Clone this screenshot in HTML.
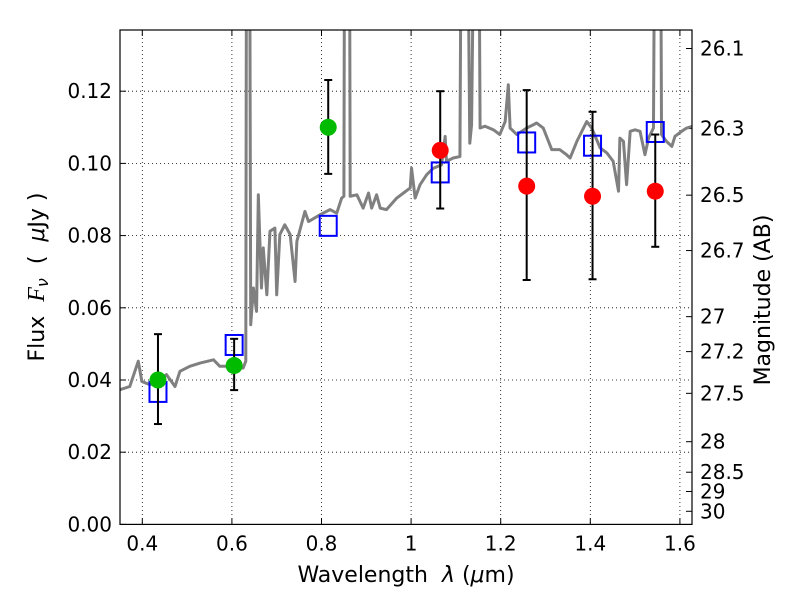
<!DOCTYPE html>
<html><head><meta charset="utf-8"><style>
body{margin:0;background:#fff}
svg text{font-family:"DejaVu Sans","Liberation Sans",sans-serif;fill:#000}
</style></head><body>
<svg id="chart" width="800" height="600" xmlns="http://www.w3.org/2000/svg"></svg>
<script>
const specWl=[0.350,0.372,0.391,0.399,0.417,0.432,0.454,0.473,0.484,0.506,0.529,0.559,0.573,0.603,0.625,0.631,0.633,0.639,0.642,0.648,0.655,0.659,0.666,0.670,0.678,0.685,0.696,0.700,0.707,0.718,0.730,0.741,0.745,0.763,0.771,0.797,0.819,0.834,0.845,0.850,0.852,0.862,0.864,0.879,0.893,0.905,0.912,0.923,0.931,0.945,0.968,0.983,0.998,1.001,1.009,1.020,1.035,1.050,1.068,1.076,1.079,1.094,1.109,1.113,1.124,1.131,1.135,1.143,1.150,1.154,1.165,1.184,1.198,1.210,1.217,1.221,1.236,1.258,1.273,1.280,1.295,1.314,1.332,1.347,1.355,1.370,1.392,1.403,1.422,1.437,1.451,1.463,1.466,1.474,1.481,1.489,1.500,1.511,1.522,1.530,1.541,1.545,1.556,1.559,1.570,1.582,1.589,1.604,1.615,1.629];
const specFlux=[0.0373,0.0382,0.0452,0.0396,0.0387,0.0396,0.0415,0.0382,0.0424,0.0438,0.0447,0.0456,0.0438,0.0438,0.0433,0.0452,0.2,0.2,0.0553,0.0655,0.0590,0.0913,0.0655,0.0766,0.0636,0.0812,0.0821,0.0636,0.0803,0.0830,0.0803,0.0673,0.0784,0.0867,0.0839,0.0858,0.0872,0.0862,0.0904,0.0909,0.2,0.2,0.0909,0.0913,0.0876,0.0918,0.0876,0.0913,0.0876,0.0872,0.0904,0.0918,0.0932,0.0987,0.0904,0.0941,0.0969,0.0987,0.0996,0.1075,0.1006,0.1015,0.1019,0.2,0.2,0.1056,0.1107,0.2,0.2,0.1098,0.1103,0.1093,0.1080,0.1116,0.1218,0.1098,0.1080,0.1098,0.1107,0.1112,0.1098,0.1038,0.1038,0.1024,0.1015,0.1061,0.1116,0.1098,0.1043,0.1029,0.1006,0.0923,0.1070,0.1061,0.0941,0.1089,0.1093,0.1089,0.1024,0.1070,0.1098,0.2,0.2,0.1080,0.1061,0.1047,0.1075,0.1089,0.1098,0.1103];
const greenWl=[0.435,0.605,0.815];
const greenFlux=[0.040,0.044,0.110];
const greenHi=[0.0527,0.0514,0.1231];
const greenLo=[0.0278,0.0372,0.0971];
const redWl=[1.065,1.258,1.405,1.545];
const redFlux=[0.1036,0.0937,0.0909,0.0923];
const redHi=[0.1200,0.1203,0.1143,0.1080];
const redLo=[0.0875,0.0677,0.0679,0.0769];
const modelWl=[0.435,0.605,0.815,1.065,1.258,1.405,1.545];
const modelFlux=[0.0367,0.0497,0.0827,0.0975,0.1058,0.1049,0.1087];
const xTicks=[0.4,0.6,0.8,1.0,1.2,1.4,1.6];
const xTickLabels=["0.4","0.6","0.8","1","1.2","1.4","1.6"];
const yTicks=[0,0.02,0.04,0.06,0.08,0.10,0.12];
const yTickLabels=["0.00","0.02","0.04","0.06","0.08","0.10","0.12"];
const magTicks=[26.1,26.3,26.5,26.7,27,27.2,27.5,28,28.5,29,30];
const magLabels=["26.1","26.3","26.5","26.7","27","27.2","27.5","28","28.5","29","30"];

const L=120,R=692,T=30,B=524.4;
const X=v=>142.3+(v-0.4)*448;
const Y=v=>B-v*3610;
const svg=document.getElementById('chart');
const NS='http://www.w3.org/2000/svg';
function mk(tag,attrs,parent){const e=document.createElementNS(NS,tag);for(const k in attrs)e.setAttribute(k,attrs[k]);(parent||svg).appendChild(e);return e;}
const defs=mk('defs',{});const cp=mk('clipPath',{id:'pc'},defs);mk('rect',{x:L,y:T,width:R-L,height:B-T},cp);

xTicks.forEach((t,i)=>{
 const g=mk('line',{x1:X(t),x2:X(t),y1:T,y2:B,stroke:'#000','stroke-dasharray':'1,3','stroke-width':0.8});
 
 mk('line',{x1:X(t),x2:X(t),y1:B,y2:B-6,stroke:'#000'});
 mk('line',{x1:X(t),x2:X(t),y1:T,y2:T+6,stroke:'#000'});
 const tx=mk('text',{x:X(t),y:B+26,'font-size':20,'text-anchor':'middle'});tx.textContent=xTickLabels[i];
 
});
yTicks.forEach((t,i)=>{
 const g=mk('line',{x1:L,x2:R,y1:Y(t),y2:Y(t),stroke:'#000','stroke-dasharray':'1,3','stroke-width':0.8});
 
 mk('line',{x1:L,x2:L+6,y1:Y(t),y2:Y(t),stroke:'#000'});
 const tx=mk('text',{x:L-8,y:Y(t)+7,'font-size':20,'text-anchor':'end'});tx.textContent=yTickLabels[i];
 
});
magTicks.forEach((m,i)=>{
 const f=Math.pow(10,(23.9-m)/2.5);const y=Y(f);
 mk('line',{x1:R,x2:R-6,y1:y,y2:y,stroke:'#000'});
 const tx=mk('text',{x:R+8,y:y+7,'font-size':20});tx.textContent=magLabels[i];
 
});

const sp=mk('polyline',{points:specWl.map((w,i)=>X(w)+','+Y(specFlux[i])).join(' '),fill:'none',stroke:'#808080','stroke-width':3,'clip-path':'url(#pc)','stroke-linejoin':'round'});


function errs(wl,hi,lo){wl.forEach((w,i)=>{
 const g=mk('g',{stroke:'#000','stroke-width':2});
 
 mk('line',{x1:X(w),x2:X(w),y1:Y(hi[i]),y2:Y(lo[i])},g);
 mk('line',{x1:X(w)-4,x2:X(w)+4,y1:Y(hi[i]),y2:Y(hi[i])},g);
 mk('line',{x1:X(w)-4,x2:X(w)+4,y1:Y(lo[i]),y2:Y(lo[i])},g);
});}
modelWl.forEach((w,i)=>{
 const r=mk('rect',{x:X(w)-8.5,y:Y(modelFlux[i])-10,width:17,height:20,fill:'none',stroke:'#0000ff','stroke-width':2});
 
});
errs(greenWl,greenHi,greenLo);errs(redWl,redHi,redLo);
greenWl.forEach((w,i)=>{const c=mk('circle',{cx:X(w),cy:Y(greenFlux[i]),r:8.5,fill:'#00bb00'});
 });
redWl.forEach((w,i)=>{const c=mk('circle',{cx:X(w),cy:Y(redFlux[i]),r:8.5,fill:'#ff0000'});
 });

const fr=mk('rect',{x:L,y:T,width:R-L,height:B-T,fill:'none',stroke:'#000','stroke-width':1.2});


let t=mk('text',{x:406,y:582,'font-size':22,'text-anchor':'middle','xml:space':'preserve'});
t.setAttribute('style','white-space:pre');
t.innerHTML='Wavelength  <tspan font-style="italic">λ</tspan> (<tspan font-style="italic">μ</tspan>m)';

t=mk('text',{x:0,y:0,'font-size':22,'text-anchor':'middle',transform:'translate(44,277) rotate(-90)'});
t.setAttribute('style','white-space:pre');
t.innerHTML='Flux  <tspan font-style="italic" font-family="Liberation Serif" font-size="24">F</tspan><tspan font-style="italic" font-size="16" dy="4">ν</tspan><tspan dy="-4">  (  </tspan><tspan font-style="italic">μ</tspan>Jy )';

t=mk('text',{x:0,y:0,'font-size':22,'text-anchor':'middle',transform:'translate(770,300) rotate(-90)'});
t.textContent='Magnitude (AB)';

</script>
</body></html>
